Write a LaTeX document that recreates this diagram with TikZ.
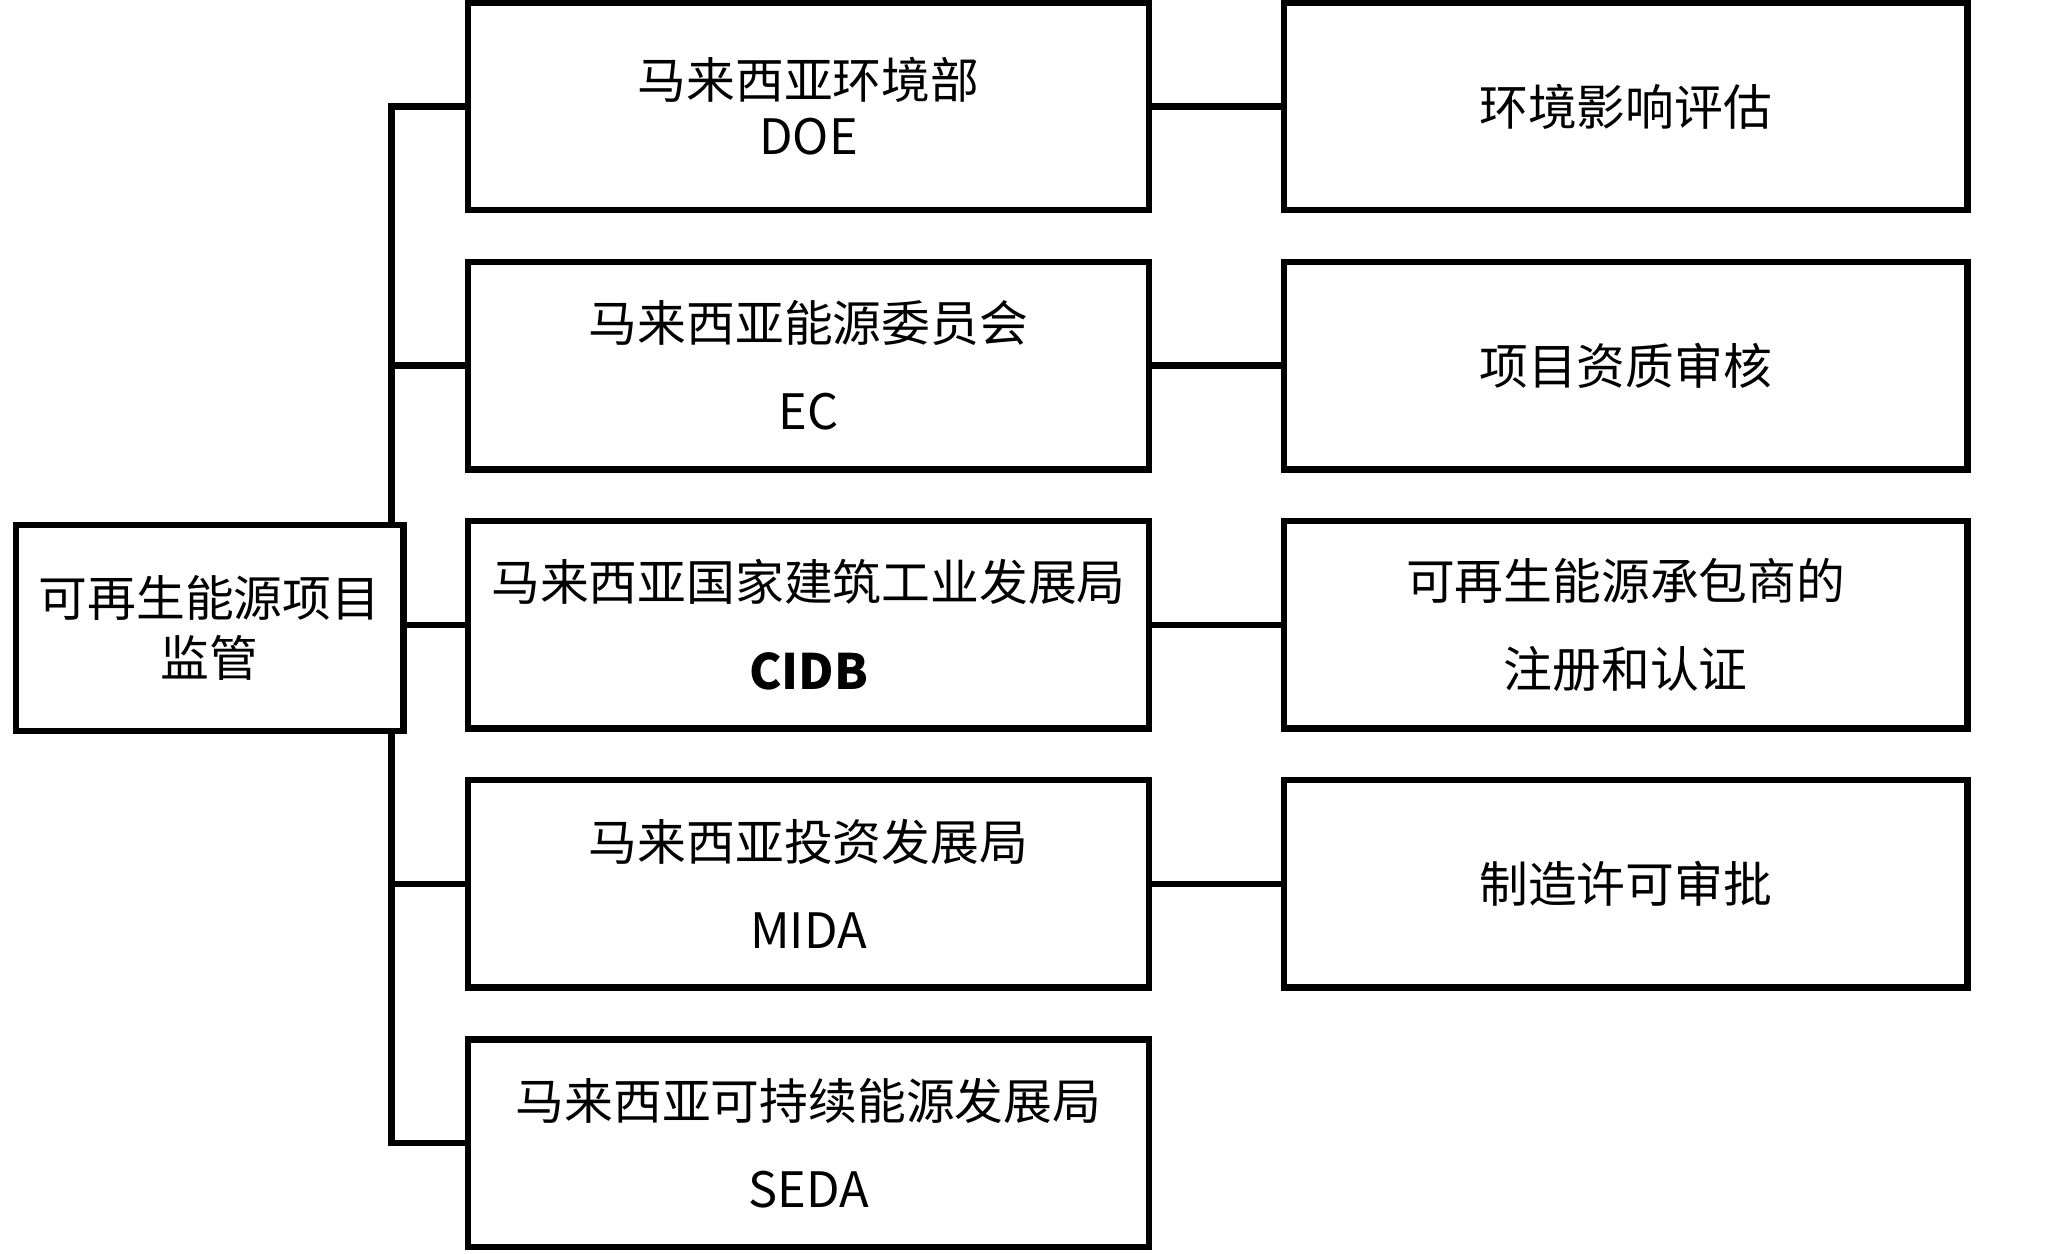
\documentclass[tikz,border=0pt]{standalone}
\usepackage{fontspec}
\setmainfont{Noto Sans CJK SC}
\usepackage{xcolor}

\begin{document}
\begin{tikzpicture}[
    box/.style={draw, line width=1.4pt, align=center, inner sep=0pt, font=\fontsize{10.5}{13}\selectfont},
    midbox/.style={box, minimum width=5.15cm, minimum height=1.57cm},
    rightbox/.style={box, minimum width=5.17cm, minimum height=1.57cm},
    link/.style={line width=1.4pt}
  ]
                \useasboundingbox (0,0) rectangle (15.67,-9.48);

                % root
                \node[box, minimum width=2.93cm, minimum height=1.56cm] (root) at (1.585,-4.75) {可再生能源项目\\监管};

                % agencies
                \node[midbox] (doe) at (6.115,-0.805) {马来西亚环境部\\[-1pt]DOE};
                \node[midbox] (ec) at (6.115,-2.765) {马来西亚能源委员会\\[6pt]EC};
                \node[midbox] (cidb) at (6.115,-4.725) {马来西亚国家建筑工业发展局\\[6pt]\textbf{CIDB}};
                \node[midbox] (mida) at (6.115,-6.685) {马来西亚投资发展局\\[6pt]MIDA};
                \node[midbox] (seda) at (6.115,-8.645) {马来西亚可持续能源发展局\\[6pt]SEDA};

                % duties
                \node[rightbox] (eia) at (12.295,-0.805) {环境影响评估};
                \node[rightbox] (qual) at (12.295,-2.765) {项目资质审核};
                \node[rightbox] (reg) at (12.295,-4.725) {可再生能源承包商的\\[6pt]注册和认证};
                \node[rightbox] (perm) at (12.295,-6.685) {制造许可审批};

                % trunk
                \coordinate (top) at (2.96,-0.805);
                \coordinate (bot) at (2.96,-8.645);
                \draw[link] (doe.west) -- (top) -- (top |- root.north);
                \draw[link] (seda.west) -- (bot) -- (bot |- root.south);
                \draw[link] (ec.west) -- (ec.west -| top);
                \draw[link] (mida.west) -- (mida.west -| top);
                \draw[link] (root.east |- cidb.west) -- (cidb.west);

                \draw[link] (doe.east) -- (eia.west);
                \draw[link] (ec.east) -- (qual.west);
                \draw[link] (cidb.east) -- (reg.west);
                \draw[link] (mida.east) -- (perm.west);
            \end{tikzpicture}
\end{document}
